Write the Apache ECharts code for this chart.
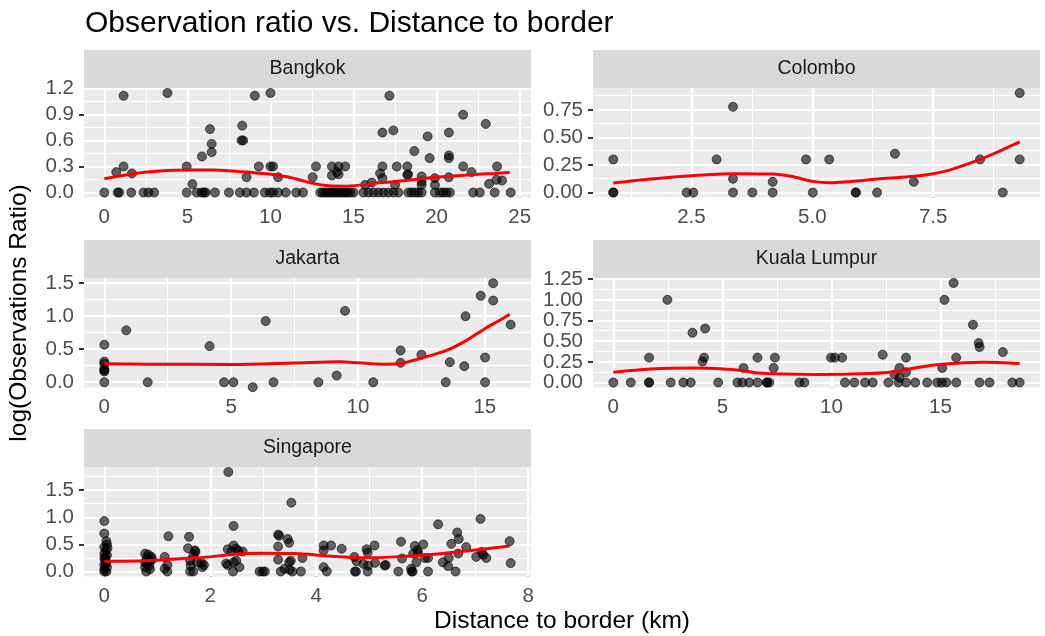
<!DOCTYPE html>
<html><head><meta charset="utf-8">
<script src="https://cdn.jsdelivr.net/npm/echarts@6/dist/echarts.min.js"></script>
<style>html,body{margin:0;padding:0;background:#fff}#c{width:1045px;height:636px}</style>
</head><body><div id="c"></div>
<script>
// ---------- data ----------
const bangkokX = [0,0.8,0.9,0.72,1.16,1.16,1.66,1.62,2.36,2.66,3.0,3.8,4.96,4.96,5.3,5.56,5.86,6.0,6.1,5.88,6.36,6.46,6.46,6.66,7.5,8.3,8.26,8.36,8.16,8.56,8.56,9.0,9.06,9.3,9.66,10.0,10.0,10.16,10.46,9.96,10.16,10.46,10.92,11.55,11.96,12.54,12.74,13.0,13.15,13.3,13.45,13.6,13.75,13.9,14.05,14.2,14.35,14.5,14.65,14.8,15.0,13.7,13.7,14.0,14.1,14.1,14.5,15.7,16.1,15.6,15.9,16.2,16.5,16.8,17.1,17.4,17.7,16.6,16.74,16.74,16.74,17.16,17.4,17.5,17.6,18.24,18.24,18.28,18.3,18.5,18.7,18.9,19.1,18.66,19.1,19.1,19.1,19.46,19.58,19.9,19.9,19.9,20.2,20.4,20.6,20.8,20.74,20.74,20.74,20.74,21.6,21.6,22.2,22.6,22.1,22.96,23.16,23.5,23.64,23.6,23.94,24.46];
const bangkokY = [0,0,0,0.235,0.3,1.114,0.22,0,0,0,0,1.146,0.3,0,0.097,0,0,0,0,0.415,0.73,0.56,0.465,0,0,0.77,0.6,0.6,0,0.176,0,0,1.114,0.3,0,1.146,0.3,0.3,0.176,0,0,0,0,0,0,0.176,0.3,0,0,0,0,0,0,0,0,0,0,0,0,0,0,0.3,0.196,0.235,0.21,0.3,0.3,0.088,0.115,0,0,0,0,0,0,0,0,0.22,0.3,0.69,0.165,1.114,0.715,0.088,0.3,0.3,0.204,0.21,0,0,0,0,0,0.477,0.185,0.127,0.088,0.646,0.396,0.165,0.088,0,0,0,0,0,0.69,0.427,0.396,0.176,0.3,0.896,0,0,0.235,0.79,0.1,0,0.3,0.146,0.138,0];
const bangkokFitX = [0,2.56,4.96,6.56,8.56,10.56,11.5,12.5,13.5,14.5,15.5,16.5,17.5,18.5,19.5,20.5,21.5,22.5,23.5,24.4];
const bangkokFitY = [0.158,0.235,0.26,0.26,0.235,0.196,0.158,0.108,0.077,0.073,0.088,0.112,0.125,0.146,0.168,0.183,0.196,0.21,0.22,0.23];
const bangkokXTicks = [0,5,10,15,20,25];
const bangkokYTicks = [0,0.3,0.6,0.9,1.2];

const colomboX = [0.884,0.884,0.884,2.40,2.54,3.02,3.36,3.36,3.36,3.76,4.18,4.18,4.87,5.01,5.35,5.90,5.90,6.34,6.71,7.10,8.47,8.94,9.29,9.29];
const colomboY = [0,0,0.3,0,0,0.3,0.778,0.125,0,0,0.097,0,0.3,0,0.3,0,0,0,0.352,0.097,0.3,0,0.903,0.3];
const colomboFitX = [0.884,1.66,2.5,3.36,4.18,4.56,5.01,5.35,5.8,6.34,7.11,7.5,7.87,8.47,8.91,9.29];
const colomboFitY = [0.086,0.122,0.153,0.171,0.168,0.147,0.101,0.089,0.101,0.122,0.147,0.171,0.208,0.3,0.383,0.459];
const colomboXTicks = [2.5,5.0,7.5];
const colomboYTicks = [0,0.25,0.5,0.75];

const jakartaX = [0,0,0,0,0,0,0,0.866,1.71,4.15,4.72,5.09,5.85,6.67,6.36,8.44,9.16,9.49,10.6,11.68,11.68,12.5,13.46,13.62,14.19,14.24,14.84,15.01,15.01,15.33,15.33,16.02];
const jakartaY = [0,0.568,0.314,0.279,0.203,0.176,0.162,0.786,0,0.547,0,0,-0.075,0,0.927,0,0.101,1.08,0,0.481,0.294,0.416,0,0.304,0.243,1.0,1.31,0.375,0,1.5,1.237,0.872];
const jakartaFitX = [0,1.68,5,7.45,9.29,10.01,11.0,11.68,12.5,13.49,14.28,15.0,15.59,15.98];
const jakartaFitY = [0.279,0.274,0.269,0.29,0.31,0.294,0.272,0.284,0.365,0.481,0.634,0.811,0.938,1.03];
const jakartaXTicks = [0,5,10,15];
const jakartaYTicks = [0,0.5,1.0,1.5];

const kualaLumpurX = [0,0.8,1.64,1.64,1.64,2.48,2.63,3.21,3.55,3.63,4.09,4.16,4.21,4.81,5.69,5.97,5.92,6.23,6.61,6.61,7.04,7.04,7.15,7.35,7.41,8.53,8.76,9.98,10.16,10.49,10.62,11.05,11.54,11.89,12.35,12.61,12.89,13.12,13.12,13.07,13.42,13.42,13.42,13.84,14.39,14.85,15.06,15.26,15.08,15.18,15.6,15.72,15.72,16.49,16.75,16.79,16.79,17.25,17.86,18.29,18.63];
const kualaLumpurY = [0,0,0,0,0.301,1.0,0,0,0,0.602,0.253,0.301,0.653,0,0,0.176,0,0,0.301,0,0,0,0,0.176,0.301,0,0,0.301,0.301,0.301,0,0,0,0,0.336,0,0.097,0.176,0.058,0,0.301,0.125,0,0,0,0,0,0,0.176,1.0,1.204,0.301,0,0.699,0.477,0.43,0,0,0.368,0,0];
const kualaLumpurFitX = [0,1.71,3.7,5.08,5.97,6.61,7.84,9.37,10.9,12.43,13.19,13.81,14.72,15.72,17.02,18.63];
const kualaLumpurFitY = [0.123,0.163,0.176,0.163,0.143,0.114,0.102,0.098,0.102,0.118,0.143,0.176,0.212,0.233,0.245,0.229];
const kualaLumpurXTicks = [0,5,10,15];
const kualaLumpurYTicks = [0,0.25,0.5,0.75,1.0,1.25];

const singaporeX = [0,0,0.04,0.05,0,0.03,0,0.05,0,0.04,0,0.05,0,0,0.04,0.02,0.02,0.03,0.06,
 0.77,0.83,0.8,0.86,0.77,0.85,0.79,0.86,0.77,0.89,0.8,0.9,
 1.21,1.14,1.19,1.19,1.14,
 1.6,1.58,1.71,1.68,1.62,1.63,1.62,1.75,1.83,1.85,1.68,1.88,1.72,
 2.34,2.44,2.33,2.44,2.49,2.61,2.33,2.44,2.49,2.43,2.55,2.4,2.53,2.3,
 2.93,2.99,3.03,
 3.28,3.3,3.28,3.46,3.49,3.28,3.49,3.33,3.4,3.5,3.53,3.52,3.55,
 3.74,3.71,4.14,4.14,4.14,4.2,4.28,4.48,4.72,4.73,4.75,4.76,4.89,4.95,4.97,4.98,4.97,5.1,5.11,5.29,5.31,5.55,5.6,5.62,5.8,5.82,5.79,5.83,5.86,5.91,5.92,5.89,6.02,6.05,6.11,6.11,6.3,6.39,6.49,6.5,6.55,6.66,6.69,6.68,6.63,6.83,7.02,7.1,7.12,7.15,7.21,7.65,7.67];
const singaporeY = [0.93,0.70,0.56,0.50,0.45,0.39,0.33,0.30,0.24,0.17,0.12,0.08,0.04,0,0,0.2,0.27,0.14,0.43,
 0.33,0.31,0.25,0.20,0.17,0.11,0,0.04,0.08,0.27,0.14,0.22,
 0.65,0.27,0.12,0,0.05,
 0.64,0.43,0.39,0.31,0.2,0.11,0,0.17,0.16,0.08,0,0.12,0.36,
 1.835,0.84,0.41,0.48,0.42,0.37,0.12,0.17,0.2,0,0.08,0.37,0.38,0.15,
 0,0,0,
 0.68,0.66,0.46,0.6,0.53,0.22,0.17,0,0.05,0.03,1.27,0.2,0,
 0.25,0,0.48,0.39,0.08,0,0.48,0.42,0.27,0,0,0.19,0.14,0.41,0.35,0.11,0,0.48,0.16,0.11,0.12,0,0.55,0.24,0,0,0.05,0.33,0.47,0.39,0.35,0.17,0.5,0.25,0,0.25,0.87,0.17,0.1,0.25,0.51,0.72,0.6,0.33,0,0.45,0.27,0.97,0.36,0.31,0.25,0.56,0.155];
const singaporeFitX = [0,0.8,1.43,1.99,2.43,2.99,3.6,4.23,4.86,5.49,6.11,6.74,7.65];
const singaporeFitY = [0.19,0.2,0.235,0.27,0.32,0.335,0.33,0.285,0.254,0.27,0.31,0.37,0.47];
const singaporeXTicks = [0,2,4,6,8];
const singaporeYTicks = [0,0.5,1.0,1.5];

// ---------- layout ----------
const F = 'Liberation Sans, Arial, Helvetica, sans-serif';
const panels = [
  {name:'Bangkok', x:bangkokX, y:bangkokY, fx:bangkokFitX, fy:bangkokFitY, xt:bangkokXTicks, yt:bangkokYTicks, xd:0, yd:1, col:0, row:0},
  {name:'Colombo', x:colomboX, y:colomboY, fx:colomboFitX, fy:colomboFitY, xt:colomboXTicks, yt:colomboYTicks, xd:1, yd:2, col:1, row:0},
  {name:'Jakarta', x:jakartaX, y:jakartaY, fx:jakartaFitX, fy:jakartaFitY, xt:jakartaXTicks, yt:jakartaYTicks, xd:0, yd:1, col:0, row:1, yLim:[-0.08,1.5785]},
  {name:'Kuala Lumpur', x:kualaLumpurX, y:kualaLumpurY, fx:kualaLumpurFitX, fy:kualaLumpurFitY, xt:kualaLumpurXTicks, yt:kualaLumpurYTicks, xd:0, yd:2, col:1, row:1},
  {name:'Singapore', x:singaporeX, y:singaporeY, fx:singaporeFitX, fy:singaporeFitY, xt:singaporeXTicks, yt:singaporeYTicks, xd:0, yd:1, col:0, row:2}
];
const colLeft = [84, 593], panelW = 447, rowTop = [88, 278, 467], panelH = 109.5, stripH = 38;

function expand(a){ const mn=Math.min(...a), mx=Math.max(...a), s=mx-mn; return [mn-0.05*s, mx+0.05*s]; }
function minors(t, r){
  const out=[]; const step=t[1]-t[0];
  const all=[t[0]-step/2]; for(let i=0;i<t.length-1;i++) all.push((t[i]+t[i+1])/2); all.push(t[t.length-1]+step/2);
  all.forEach(v=>{ if(v>r[0] && v<r[1]) out.push(v); });
  return out;
}

const grids=[], xAxes=[], yAxes=[], series=[], graphics=[];
panels.forEach((p,i)=>{
  const left=colLeft[p.col], top=rowTop[p.row];
  grids.push({left:left, top:top, width:panelW, height:panelH, show:true, backgroundColor:'#EBEBEB', borderWidth:0});
  const xr = p.xLim || expand(p.x), yr = p.yLim || expand(p.y);
  const tickStyle = {show:true, length:5, lineStyle:{color:'#333333', width:2}};
  const lab = {color:'#4D4D4D', fontSize:20.5, fontFamily:F, margin:10, lineHeight:14, interval:0, showMinLabel:true, showMaxLabel:true, hideOverlap:false};
  xAxes.push({type:'value', gridIndex:i, min:xr[0], max:xr[1], axisLine:{show:false}, splitLine:{show:false},
    axisTick:Object.assign({customValues:p.xt}, tickStyle),
    axisLabel:Object.assign({customValues:p.xt, formatter:(v)=>Number(v).toFixed(p.xd)}, lab, {margin:13})});
  // y tick labels split over two overlapping axes (alternate ticks) so none are dropped as overlapping
  const ytA = p.yt.filter((v,k)=>k%2===0), ytB = p.yt.filter((v,k)=>k%2===1);
  [ytA, ytB].forEach(vals=>{
    yAxes.push({type:'value', gridIndex:i, position:'left', offset:0, min:yr[0], max:yr[1], axisLine:{show:false}, splitLine:{show:false},
      axisTick:Object.assign({customValues:vals}, tickStyle),
      axisLabel:Object.assign({customValues:vals, formatter:(v)=>Number(v).toFixed(p.yd)}, lab)});
  });
  const yi = 2*i;
  const mk=[];
  minors(p.xt,xr).forEach(v=>mk.push({xAxis:v, lineStyle:{width:1.1}}));
  minors(p.yt,yr).forEach(v=>mk.push({yAxis:v, lineStyle:{width:1.1}}));
  p.xt.forEach(v=>{ if(v>=xr[0]&&v<=xr[1]) mk.push({xAxis:v, lineStyle:{width:2.2}}); });
  p.yt.forEach(v=>{ if(v>=yr[0]&&v<=yr[1]) mk.push({yAxis:v, lineStyle:{width:2.2}}); });
  series.push({type:'scatter', xAxisIndex:i, yAxisIndex:yi, data:[], silent:true, z:1,
    markLine:{silent:true, z:1, animation:false, symbol:['none','none'], label:{show:false}, emphasis:{disabled:true},
      lineStyle:{color:'#FFFFFF', type:'solid', opacity:1}, data:mk}});
  series.push({type:'scatter', xAxisIndex:i, yAxisIndex:yi, silent:true, z:3, symbolSize:9,
    data:p.x.map((v,j)=>[v,p.y[j]]),
    itemStyle:{color:'rgba(0,0,0,0.6)', borderColor:'rgba(0,0,0,0.6)', borderWidth:1, opacity:1}});
  series.push({type:'line', xAxisIndex:i, yAxisIndex:yi, silent:true, z:4, smooth:0.3, showSymbol:false, symbol:'none',
    data:p.fx.map((v,j)=>[v,p.fy[j]]), lineStyle:{color:'#FF0000', width:3}});
  graphics.push({type:'rect', shape:{x:left, y:top-stripH, width:panelW, height:stripH}, style:{fill:'#D9D9D9'}, silent:true, z:0});
  graphics.push({type:'text', x:left+panelW/2, y:top-stripH/2, silent:true, z:1,
    style:{text:p.name, fontSize:19.5, fontFamily:F, fill:'#1A1A1A', align:'center', verticalAlign:'middle'}});
});
graphics.push({type:'text', x:19, y:313, rotation:Math.PI/2, silent:true,
  style:{text:'log(Observations Ratio)', fontSize:24.5, fontFamily:F, fill:'#000000', align:'center', verticalAlign:'middle'}});
graphics.push({type:'text', x:562, y:621, silent:true,
  style:{text:'Distance to border (km)', fontSize:24.5, fontFamily:F, fill:'#000000', align:'center', verticalAlign:'middle'}});

const chart = echarts.init(document.getElementById('c'), null, {renderer:'canvas'});
chart.setOption({
  animation:false,
  backgroundColor:'#FFFFFF',
  title:{text:'Observation ratio vs. Distance to border', left:80, top:4, textStyle:{fontSize:30, fontWeight:'normal', color:'#000000', fontFamily:F}},
  grid:grids, xAxis:xAxes, yAxis:yAxes, series:series, graphic:graphics
});
</script></body></html>
